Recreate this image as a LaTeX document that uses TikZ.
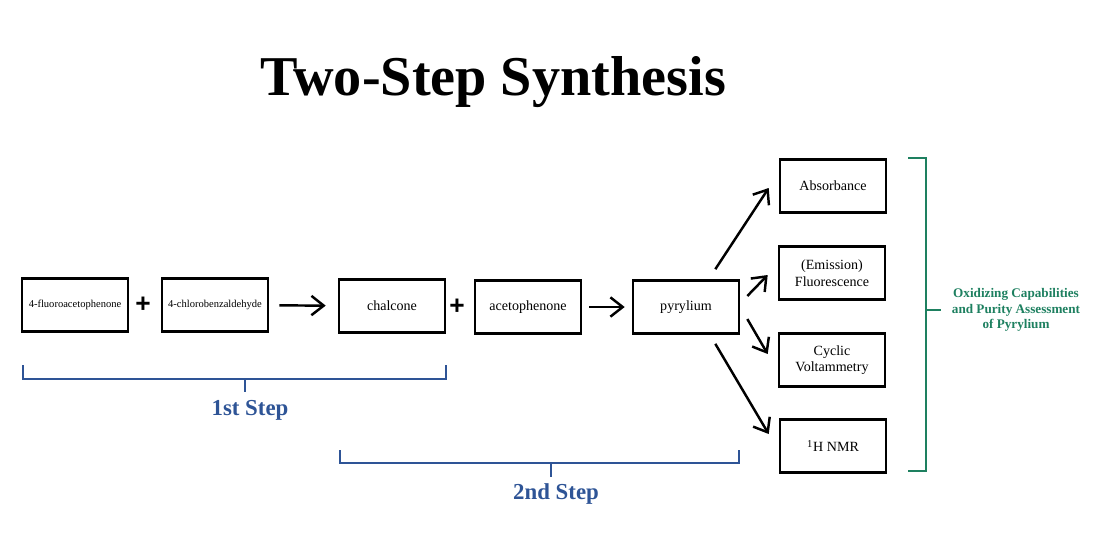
\documentclass[tikz,border=0pt]{standalone}
\usepackage{fontspec}
\setmainfont{Liberation Serif}
\newfontfamily\plusfont{Liberation Sans}
\usetikzlibrary{arrows.meta,calc}
\definecolor{stepblue}{RGB}{46,84,150}
\definecolor{assessgreen}{RGB}{30,128,96}

\tikzset{
  box/.style={draw=black, line width=1.5pt, minimum width=2.12cm, minimum height=1.06cm,
    inner sep=1pt, align=center, font=\fontsize{8}{9.5}\selectfont},
  smallbox/.style={box, font=\fontsize{6}{7}\selectfont},
  arr/.style={draw=black, line width=1.4pt, -{Straight Barb[length=7pt,width=11pt]}},
  plus/.style={font=\plusfont\fontsize{15}{15}\bfseries\selectfont},
  brace/.style={line width=1.5pt},
  steplabel/.style={stepblue, font=\fontsize{13}{15}\bfseries\selectfont},
}

\begin{document}
\begin{tikzpicture}[x=0.02cm, y=-0.02cm]
\useasboundingbox (0,0) rectangle (1108,559);
% title
\node[font=\fontsize{32}{38}\bfseries\selectfont] (title) at (493,82) {Two-Step Synthesis};

% reaction chain
\node[smallbox] (fluoro) at (75,305) {4-fluoroacetophenone};
\node[plus] (plusa) at (143,305) {+};
\node[smallbox] (chloro) at (215,305) {4-chlorobenzaldehyde};
\node[box] (chalc) at (392,306) {chalcone};
\node[plus] (plusb) at (457,307) {+};
\node[box] (aceto) at (528,307) {acetophenone};
\node[box] (pyr) at (686,307) {pyrylium};

% assessment boxes
\node[box] (absorb) at (833,186) {Absorbance};
\node[box] (fluor) at (832,273) {(Emission)\\Fluorescence};
\node[box] (cyclic) at (832,360) {Cyclic\\Voltammetry};
\node[box] (nmr) at (833,446) {\textsuperscript{1}H NMR};

\draw[arr, shorten <=0.2cm, shorten >=0.24cm] (chloro) -- (chalc);
\draw[arr, shorten <=0.14cm, shorten >=0.14cm] (aceto) -- (pyr);

\draw[arr] ($(pyr.north east)+(-25,-10)$) -- ($(absorb.west)+(-10,2)$);
\draw[arr] ($(pyr.east)+(7,-11)$) -- ($(fluor.west)+(-10,2)$);
\draw[arr] ($(pyr.east)+(7,12)$) -- ($(cyclic.west)+(-10,-6)$);
\draw[arr] ($(pyr.south east)+(-25,9)$) -- ($(nmr.west)+(-10,-12)$);

% step brackets
\node[steplabel] (step1) at (250,410) {1st Step};
\draw[stepblue, brace] (23,365) -- (23,379) -- (446,379) -- (446,365);
\draw[stepblue, brace] (245,379) -- (245,392);

\node[steplabel] (step2) at (556,494) {2nd Step};
\draw[stepblue, brace] (340,450) -- (340,463) -- (739,463) -- (739,450);
\draw[stepblue, brace] (551,463) -- (551,477);

% assessment bracket
\node[assessgreen, align=center, font=\fontsize{7.5}{9}\bfseries\selectfont] (assess) at (1016,310)
  {Oxidizing Capabilities\\and Purity Assessment\\of Pyrylium};
\draw[assessgreen, brace] (908,158) -- (926,158) -- (926,471) -- (908,471);
\draw[assessgreen, brace] (926,310) -- (941,310);
\end{tikzpicture}
\end{document}
